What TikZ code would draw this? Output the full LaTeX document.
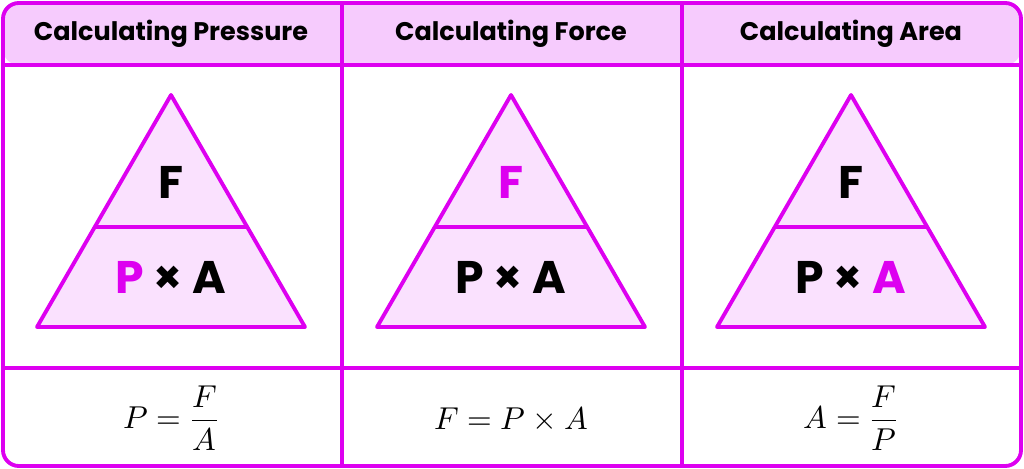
\documentclass[tikz,border=0pt]{standalone}
\usepackage{fontspec}
\setmainfont{Poppins}
\usepackage{unicode-math}
\setmathfont{Latin Modern Math}
\usetikzlibrary{positioning, calc}
\definecolor{mag}{HTML}{DD00F0}
\definecolor{headfill}{HTML}{F6CBFD}
\definecolor{trifill}{HTML}{FAE1FE}
\tikzset{
  line/.style={draw=mag, line width=2.2pt},
  head/.style={font=\fontsize{14.5}{18}\selectfont\bfseries},
  letter/.style={font=\fontsize{26}{30}\selectfont\bfseries},
  formula/.style={font=\fontsize{18}{21}\selectfont}
}
\newcommand{\hl}[1]{\textcolor{mag}{#1}}
\begin{document}
\begin{tikzpicture}[x=0.02cm, y=-0.02cm]
      \useasboundingbox (0,0) rectangle (1024,469);
      % header and frame
      \fill[headfill, rounded corners=9pt] (3,3) rectangle (1021,65);
      \draw[line, rounded corners=9pt] (3,3) rectangle (1021,466);
      \draw[line] (3,65) -- (1021,65);
      \draw[line] (3,368) -- (1021,368);
      \draw[line] (342,3) -- (342,466);
      \draw[line] (682,3) -- (682,466);

      \node[head] (h1) at (171,34) {Calculating Pressure};
      \node[head] (h2) at (511,34) {Calculating Force};
      \node[head] (h3) at (851,34) {Calculating Area};

      % triangles
      \foreach \cx in {171, 511, 851} {
        \draw[line, line join=round, fill=trifill] (\cx,95) -- (\cx+134,327) -- (\cx-134,327) -- cycle;
        \draw[line] (\cx-76,227) -- (\cx+76,227);
      }

      \node[letter] (t1) at (171,182) {F};
      \node[letter] (b1) at (171,277) {\hl{P} × A};
      \node[letter] (t2) at (511,182) {\hl{F}};
      \node[letter] (b2) at (511,277) {P × A};
      \node[letter] (t3) at (851,182) {F};
      \node[letter] (b3) at (851,277) {P × \hl{A}};

      % formulas
      \node[formula] (f1) at (171,418) {$P=\dfrac{F}{A}$};
      \node[formula] (f2) at (511,418) {$F=P\times A$};
      \node[formula] (f3) at (851,418) {$A=\dfrac{F}{P}$};
\end{tikzpicture}
\end{document}
